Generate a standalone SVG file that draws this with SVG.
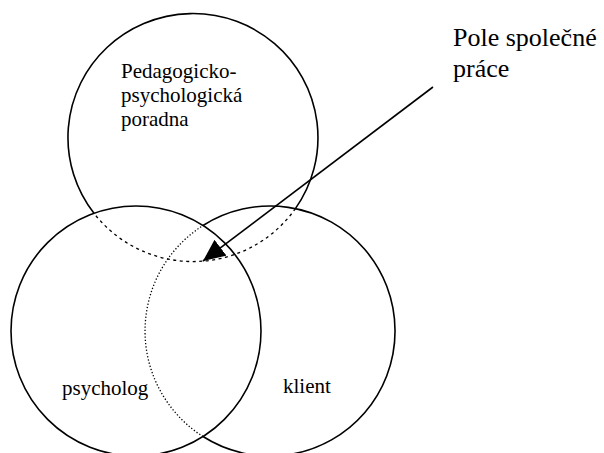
<svg xmlns="http://www.w3.org/2000/svg" width="604" height="453" viewBox="0 0 604 453">
<style>
.solid{fill:none;stroke:#000;stroke-width:1.6}
.dash{fill:none;stroke:#000;stroke-width:1.3;stroke-dasharray:3 3.5}
.dot{fill:none;stroke:#000;stroke-width:1.3;stroke-dasharray:1.3 2}
.t{font-family:"Liberation Serif","Times New Roman",serif;fill:#000}
.lbl{font-size:21px}
.big{font-size:26px}
</style>
<defs>
<marker id="ah" markerUnits="userSpaceOnUse" markerWidth="24" markerHeight="20" refX="22" refY="10" orient="auto">
<path d="M0,0 L22,10 L0,20 z" fill="#000"/>
</marker>
</defs>
<rect width="604" height="453" fill="#fff"/>
<g id="poradna">
<path class="solid" d="M94,213.3 A125,124 0 1 1 295.4,208.6"/>
<path class="dash" d="M295.4,208.6 A125,124 0 0 1 94,213.3"/>
<text class="t lbl" x="121" y="78">Pedagogicko-</text>
<text class="t lbl" x="121" y="102">psychologická</text>
<text class="t lbl" x="121" y="126">poradna</text>
</g>
<g id="psycholog">
<circle class="solid" cx="136" cy="331" r="125"/>
<text class="t lbl" x="62" y="395">psycholog</text>
</g>
<g id="klient">
<path class="solid" d="M203,225.5 A125,125 0 1 1 203,436.5"/>
<path class="dot" d="M203,436.5 A125,125 0 0 1 203,225.5"/>
<text class="t lbl" x="283" y="393">klient</text>
</g>
<g id="pole">
<text class="t big" x="453" y="46">Pole společné</text>
<text class="t big" x="453" y="77">práce</text>
</g>
<g id="connectors">
<line class="solid" x1="433" y1="87" x2="203" y2="261" marker-end="url(#ah)"/>
</g>
</svg>
